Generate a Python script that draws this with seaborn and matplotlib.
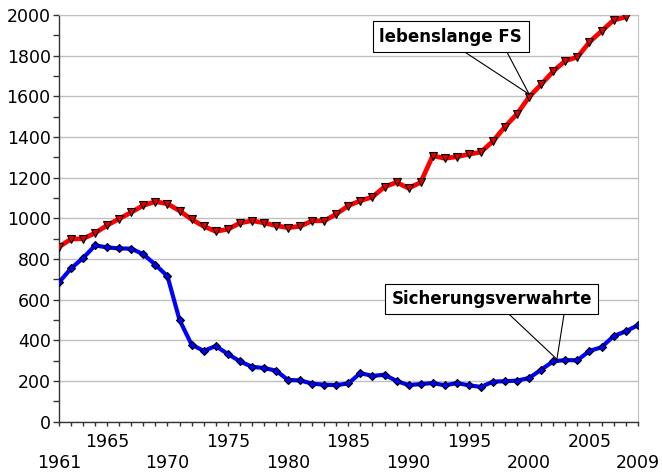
import matplotlib
matplotlib.use("Agg")
import matplotlib.pyplot as plt
import seaborn as sns
import pandas as pd
import numpy as np

# Daten
years_fs = list(range(1961, 2009))
lebenslange_fs = [860, 898, 900, 928, 966, 998, 1030, 1064, 1082, 1072,
                  1037, 995, 961, 936, 946, 977, 988, 978, 964, 954,
                  961, 988, 988, 1021, 1062, 1087, 1105, 1155, 1177, 1148,
                  1177, 1308, 1295, 1303, 1315, 1326, 1380, 1451, 1514, 1598,
                  1659, 1724, 1775, 1793, 1867, 1921, 1975, 1990]

years_sv = list(range(1961, 2010))
sicherungsverwahrte = [685, 754, 805, 867, 857, 852, 851, 823, 772, 715,
                       500, 379, 348, 372, 333, 297, 270, 264, 251, 205,
                       203, 187, 182, 180, 188, 239, 225, 231, 200, 180,
                       185, 190, 179, 190, 179, 171, 197, 199, 202, 215,
                       256, 297, 303, 302, 348, 366, 421, 444, 474]

upper_labels = [1965, 1975, 1985, 1995, 2005]
lower_labels = [1961, 1970, 1980, 1990, 2000, 2009]

sns.set_style("white")
plt.rcParams['font.family'] = ['DejaVu Sans']
plt.rcParams['text.color'] = 'black'
plt.rcParams['xtick.labelcolor'] = 'black'
plt.rcParams['ytick.labelcolor'] = 'black'

fig = plt.figure(figsize=(6.62, 4.72), dpi=100)
ax = fig.add_axes([0.0891, 0.1066, 0.8742, 0.8616])

df_fs = pd.DataFrame({'Jahr': years_fs, 'Anzahl': lebenslange_fs})
df_sv = pd.DataFrame({'Jahr': years_sv, 'Anzahl': sicherungsverwahrte})

sns.lineplot(data=df_fs, x='Jahr', y='Anzahl', ax=ax, color='#ff0000', lw=3.4,
             marker='v', markersize=6.3, markerfacecolor='#e00000',
             markeredgecolor='black', markeredgewidth=0.8, zorder=3)
sns.lineplot(data=df_sv, x='Jahr', y='Anzahl', ax=ax, color='#0000ff', lw=3.0,
             marker='D', markersize=4.5, markerfacecolor='#0000ff',
             markeredgecolor='black', markeredgewidth=0.8, zorder=3)

ax.set_xlim(1961, 2009)
ax.set_ylim(0, 2000)
ax.set_xlabel('')
ax.set_ylabel('')

# Achsen
ax.set_yticks(np.arange(0, 2001, 200))
ax.set_yticks(np.arange(100, 2000, 200), minor=True)
ax.yaxis.grid(True, which='major', color='#c0c0c0', lw=1)
ax.xaxis.grid(False)
ax.tick_params(axis='y', which='both', left=True, length=4, width=1,
               color='#333333', labelcolor='black', labelsize=12.5, pad=2)

xt = list(range(1961, 2010))
labels = []
for y in xt:
    if y in upper_labels:
        labels.append(str(y))
    elif y in lower_labels:
        labels.append('\n' + str(y))
    else:
        labels.append('')
ax.set_xticks(xt)
ax.set_xticklabels(labels)
ax.tick_params(axis='x', bottom=True, length=3, width=1, color='#333333',
               labelcolor='black', labelsize=12.5, pad=5)
for lbl in ax.get_xticklabels():
    lbl.set_linespacing(1.25)

for side in ['left', 'bottom']:
    ax.spines[side].set_color('#333333')
    ax.spines[side].set_linewidth(1)
ax.spines['right'].set_color('#c0c0c0')
ax.spines['top'].set_color('#c0c0c0')
for s in ax.spines.values():
    s.set_visible(True)

# Beschriftungen mit Zeigern
def callout(text, center, tails, target):
    for t in tails:
        ax.annotate('', xy=target, xytext=t,
                    arrowprops=dict(arrowstyle='-', lw=0.8, color='black',
                                    shrinkA=0, shrinkB=0), zorder=4)
    ax.text(center[0], center[1], text, ha='center', va='center',
            fontsize=12, fontweight='bold', color='black', zorder=5,
            bbox=dict(boxstyle='square,pad=0.38', fc='white', ec='black', lw=0.8))

callout('lebenslange FS', (1993.5, 1894), [(1994.5, 1824), (1998.1, 1824)], (2000, 1610))
callout('Sicherungsverwahrte', (1996.9, 604), [(1998.25, 533), (2002.9, 533)], (2002.3, 307))

fig.savefig('out.png', dpi=100)
